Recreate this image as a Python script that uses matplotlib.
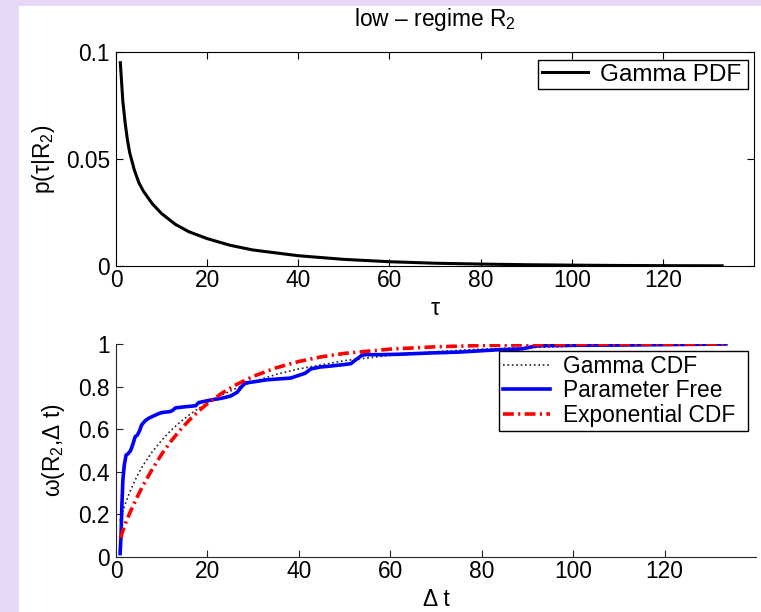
import matplotlib
matplotlib.use('Agg')
import matplotlib.pyplot as plt
from matplotlib.patches import Rectangle

plt.rcParams['font.family'] = ['Liberation Sans', 'DejaVu Sans']
plt.rcParams['mathtext.fontset'] = 'custom'
plt.rcParams['mathtext.rm'] = 'Liberation Sans'
plt.rcParams['mathtext.it'] = 'Liberation Sans:italic'
plt.rcParams['font.size'] = 16.4

# values
PDF_TAU = [0.95, 1.5, 2, 2.5, 3, 4, 5, 6, 8, 10, 13, 16, 20, 25, 30, 40, 50,
           60, 70, 80, 90, 100, 110, 120, 133]
PDF_VAL = [0.095, 0.077, 0.067, 0.059, 0.053, 0.045, 0.039, 0.035, 0.029,
           0.0245, 0.0195, 0.016, 0.0128, 0.0097, 0.0075, 0.0048, 0.0031,
           0.0020, 0.0013, 0.0009, 0.0006, 0.0004, 0.00025, 0.00016, 0.0001]

GAMMA_T = [0.9, 1.5, 2, 3, 4, 5, 6, 8, 10, 12, 14, 16, 18, 20, 23, 26, 30,
           35, 40, 50, 60, 70, 80, 90, 100, 110, 120, 133]
GAMMA_CDF = [0.17, 0.215, 0.248, 0.305, 0.353, 0.396, 0.433, 0.496, 0.548,
             0.594, 0.633, 0.667, 0.697, 0.724, 0.759, 0.789, 0.823, 0.857,
             0.883, 0.922, 0.947, 0.964, 0.976, 0.983, 0.989, 0.993, 0.996,
             0.998]

FREE_T = [0.9, 1.1, 1.3, 1.5, 1.8, 2.2, 2.7, 3.2, 3.7, 4.2, 4.7, 5.2, 5.6,
          6.4, 7.2, 8.2, 9.2, 10, 11.9, 12.5, 13, 15, 17.4, 18.1, 20.7, 23,
          25, 26.5, 27.5, 28.3, 30, 33, 38.2, 41.4, 41.9, 42.6, 44.7, 46.3,
          50.9, 51.4, 52.2, 53.8, 54.5, 58, 62, 69, 75, 83.7, 88.8, 91.7,
          93.2, 100, 110, 120, 133.4]
FREE_CDF = [0.016, 0.1, 0.25, 0.36, 0.43, 0.478, 0.486, 0.50, 0.53, 0.565,
            0.573, 0.595, 0.62, 0.64, 0.652, 0.662, 0.672, 0.678, 0.683, 0.69,
            0.70, 0.705, 0.71, 0.725, 0.737, 0.745, 0.755, 0.773, 0.80, 0.817,
            0.822, 0.832, 0.840, 0.863, 0.871, 0.883, 0.892, 0.895, 0.906,
            0.908, 0.922, 0.947, 0.95, 0.95, 0.952, 0.958, 0.962, 0.973,
            0.977, 0.99, 0.992, 0.994, 0.995, 0.997, 1.0]

EXP_T = [1, 2, 3, 4, 5, 6, 8, 10, 12, 14, 16, 18, 20, 23, 26, 30, 35, 40,
         45, 50, 60, 70, 80, 90, 100, 110, 120, 133]
EXP_CDF = [0.09, 0.155, 0.206, 0.253, 0.297, 0.339, 0.415, 0.483, 0.543,
           0.595, 0.642, 0.683, 0.720, 0.767, 0.806, 0.848, 0.888, 0.918,
           0.940, 0.956, 0.976, 0.987, 0.993, 0.996, 0.998, 0.999, 0.9994,
           0.9997]

X_TICKS = [0, 20, 40, 60, 80, 100, 120]
PDF_TICKS = [0, 0.05, 0.1]
PDF_TICK_LABELS = ['0', '0.05', '0.1']
CDF_TICKS = [0, 0.2, 0.4, 0.6, 0.8, 1]
CDF_TICK_LABELS = ['0', '0.2', '0.4', '0.6', '0.8', '1']

W, H = 761, 612
fig = plt.figure(figsize=(W / 100, H / 100), dpi=100)
fig.patch.set_facecolor('#E7D8F6')
fig.patches.append(Rectangle((19 / W, 0), 1, 1 - 6 / H, transform=fig.transFigure,
                             facecolor='white', edgecolor='none', zorder=-10))

# top panel: gamma pdf
ax1 = fig.add_axes([116 / W, 1 - 266 / H, 638 / W, 214 / H])
ax1.plot(PDF_TAU, PDF_VAL, color='black', lw=2.2, label='Gamma PDF')
ax1.set_xlim(0, 140)
ax1.set_ylim(0, 0.1)
ax1.set_xticks(X_TICKS)
ax1.set_yticks(PDF_TICKS)
ax1.set_yticklabels(PDF_TICK_LABELS)
ax1.tick_params(direction='in', length=5, top=True, right=True)
ax1.tick_params(axis='x', pad=2)
ax1.tick_params(axis='y', pad=4.5)
ax1.set_xlabel('τ', labelpad=4)
ax1.set_ylabel('p(τ|R$_2$)', labelpad=6)
ax1.set_title('low – regime R$_2$', fontsize=16.4, pad=19)
ax1.legend(loc='upper right', bbox_to_anchor=(538 / W, 1 - 91 / H, 210 / W, 31 / H),
           bbox_transform=fig.transFigure, borderaxespad=0, mode='expand',
           fancybox=False, edgecolor='black', framealpha=1, fontsize=17.5,
           handlelength=1.9, handletextpad=0.5, borderpad=0.15)

# bottom panel: cdfs
ax2 = fig.add_axes([116 / W, 1 - 557 / H, 640 / W, 213 / H])
ax2.plot(GAMMA_T, GAMMA_CDF, color='#222222', lw=1.2, ls=':', label='Gamma CDF')
ax2.plot(FREE_T, FREE_CDF, color='#0000FF', lw=2.6, label='Parameter Free')
ax2.plot(EXP_T, EXP_CDF, color='#FF0000', lw=2.6,
         ls=(0, (3.0, 1.2, 0.6, 1.2)), label='Exponential CDF')
ax2.set_xlim(0, 140)
ax2.set_ylim(0, 1)
ax2.set_xticks(X_TICKS)
ax2.set_yticks(CDF_TICKS)
ax2.set_yticklabels(CDF_TICK_LABELS)
ax2.spines['top'].set_visible(False)
ax2.spines['right'].set_visible(False)
for side in ['left', 'bottom']:
  ax2.spines[side].set_color('#262626')
ax2.tick_params(direction='in', length=5, color='#262626')
ax2.tick_params(axis='x', pad=2)
ax2.tick_params(axis='y', pad=4.5)
ax2.set_xlabel('Δ t', labelpad=4)
ax2.set_ylabel('ω(R$_2$,Δ t)', labelpad=8)
ax2.legend(loc='upper right', bbox_to_anchor=(499 / W, 1 - 435 / H, 249 / W, 84 / H),
           bbox_transform=fig.transFigure, borderaxespad=0, mode='expand',
           fancybox=False, edgecolor='black', framealpha=1, fontsize=16.4,
           handlelength=2.05, handletextpad=0.57, borderpad=0.19,
           labelspacing=0.05)

fig.savefig('out.png', dpi=100, facecolor=fig.get_facecolor())
